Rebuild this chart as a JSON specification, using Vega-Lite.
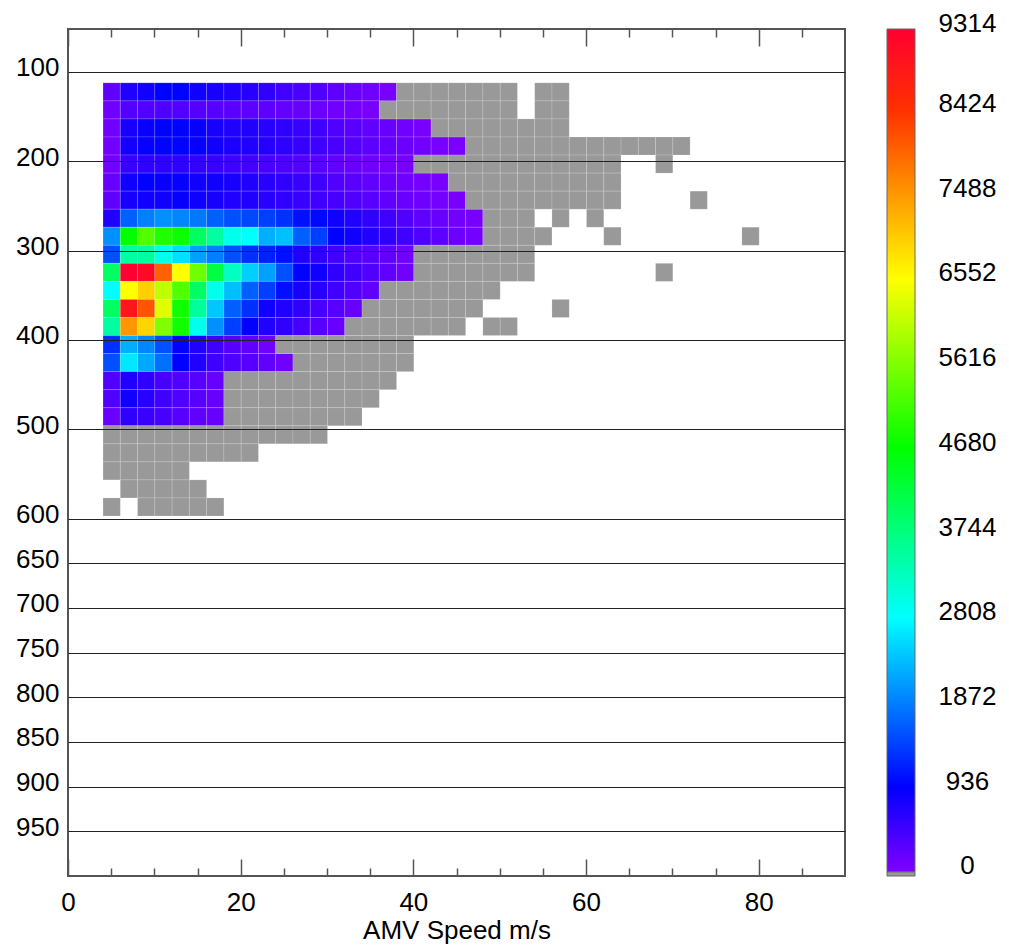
{
"$schema":"https://vega.github.io/schema/vega-lite/v6.json",
"padding":{"left":14,"top":10,"right":5,"bottom":2},
"background":"white",
"config":{"view":{"stroke":null},"font":"Liberation Sans","axis":{"labelFont":"Liberation Sans","titleFont":"Liberation Sans"}},
"datasets":{
"bar":[{"lo":0,"hi":9314},{"lo":-45,"hi":0}],
"cells":[
{"s":4,"p":111.7,"c":228},{"s":6,"p":111.7,"c":700},{"s":8,"p":111.7,"c":820},{"s":10,"p":111.7,"c":950},{"s":12,"p":111.7,"c":950},{"s":14,"p":111.7,"c":820},{"s":16,"p":111.7,"c":760},{"s":18,"p":111.7,"c":700},{"s":20,"p":111.7,"c":640},{"s":22,"p":111.7,"c":580},{"s":24,"p":111.7,"c":470},{"s":26,"p":111.7,"c":400},{"s":28,"p":111.7,"c":350},{"s":30,"p":111.7,"c":250},{"s":32,"p":111.7,"c":180},{"s":34,"p":111.7,"c":120},{"s":36,"p":111.7,"c":60},
{"s":38,"p":111.7,"c":0},{"s":40,"p":111.7,"c":0},{"s":42,"p":111.7,"c":0},{"s":44,"p":111.7,"c":0},{"s":46,"p":111.7,"c":0},{"s":48,"p":111.7,"c":0},{"s":50,"p":111.7,"c":0},{"s":54,"p":111.7,"c":0},{"s":56,"p":111.7,"c":0},
{"s":4,"p":131.9,"c":110},{"s":6,"p":131.9,"c":330},{"s":8,"p":131.9,"c":340},{"s":10,"p":131.9,"c":350},{"s":12,"p":131.9,"c":340},{"s":14,"p":131.9,"c":320},{"s":16,"p":131.9,"c":300},{"s":18,"p":131.9,"c":280},{"s":20,"p":131.9,"c":260},{"s":22,"p":131.9,"c":240},{"s":24,"p":131.9,"c":210},{"s":26,"p":131.9,"c":180},{"s":28,"p":131.9,"c":150},{"s":30,"p":131.9,"c":120},{"s":32,"p":131.9,"c":90},{"s":34,"p":131.9,"c":60},
{"s":36,"p":131.9,"c":0},{"s":38,"p":131.9,"c":0},{"s":40,"p":131.9,"c":0},{"s":42,"p":131.9,"c":0},{"s":44,"p":131.9,"c":0},{"s":46,"p":131.9,"c":0},{"s":48,"p":131.9,"c":0},{"s":50,"p":131.9,"c":0},{"s":54,"p":131.9,"c":0},{"s":56,"p":131.9,"c":0},
{"s":4,"p":152.1,"c":100},{"s":6,"p":152.1,"c":760},{"s":8,"p":152.1,"c":880},{"s":10,"p":152.1,"c":940},{"s":12,"p":152.1,"c":950},{"s":14,"p":152.1,"c":880},{"s":16,"p":152.1,"c":760},{"s":18,"p":152.1,"c":700},{"s":20,"p":152.1,"c":700},{"s":22,"p":152.1,"c":640},{"s":24,"p":152.1,"c":580},{"s":26,"p":152.1,"c":520},{"s":28,"p":152.1,"c":470},{"s":30,"p":152.1,"c":350},{"s":32,"p":152.1,"c":290},{"s":34,"p":152.1,"c":230},{"s":36,"p":152.1,"c":170},{"s":38,"p":152.1,"c":110},{"s":40,"p":152.1,"c":60},
{"s":42,"p":152.1,"c":0},{"s":44,"p":152.1,"c":0},{"s":46,"p":152.1,"c":0},{"s":48,"p":152.1,"c":0},{"s":50,"p":152.1,"c":0},{"s":52,"p":152.1,"c":0},{"s":54,"p":152.1,"c":0},{"s":56,"p":152.1,"c":0},
{"s":4,"p":172.3,"c":100},{"s":6,"p":172.3,"c":780},{"s":8,"p":172.3,"c":900},{"s":10,"p":172.3,"c":960},{"s":12,"p":172.3,"c":960},{"s":14,"p":172.3,"c":900},{"s":16,"p":172.3,"c":800},{"s":18,"p":172.3,"c":740},{"s":20,"p":172.3,"c":700},{"s":22,"p":172.3,"c":660},{"s":24,"p":172.3,"c":600},{"s":26,"p":172.3,"c":540},{"s":28,"p":172.3,"c":480},{"s":30,"p":172.3,"c":400},{"s":32,"p":172.3,"c":320},{"s":34,"p":172.3,"c":260},{"s":36,"p":172.3,"c":200},{"s":38,"p":172.3,"c":140},{"s":40,"p":172.3,"c":100},{"s":42,"p":172.3,"c":60},{"s":44,"p":172.3,"c":40},
{"s":46,"p":172.3,"c":0},{"s":48,"p":172.3,"c":0},{"s":50,"p":172.3,"c":0},{"s":52,"p":172.3,"c":0},{"s":54,"p":172.3,"c":0},{"s":56,"p":172.3,"c":0},{"s":58,"p":172.3,"c":0},{"s":60,"p":172.3,"c":0},{"s":62,"p":172.3,"c":0},{"s":64,"p":172.3,"c":0},{"s":66,"p":172.3,"c":0},{"s":68,"p":172.3,"c":0},{"s":70,"p":172.3,"c":0},
{"s":4,"p":192.5,"c":90},{"s":6,"p":192.5,"c":520},{"s":8,"p":192.5,"c":580},{"s":10,"p":192.5,"c":600},{"s":12,"p":192.5,"c":600},{"s":14,"p":192.5,"c":560},{"s":16,"p":192.5,"c":520},{"s":18,"p":192.5,"c":480},{"s":20,"p":192.5,"c":440},{"s":22,"p":192.5,"c":400},{"s":24,"p":192.5,"c":360},{"s":26,"p":192.5,"c":320},{"s":28,"p":192.5,"c":270},{"s":30,"p":192.5,"c":220},{"s":32,"p":192.5,"c":170},{"s":34,"p":192.5,"c":120},{"s":36,"p":192.5,"c":80},{"s":38,"p":192.5,"c":50},
{"s":40,"p":192.5,"c":0},{"s":42,"p":192.5,"c":0},{"s":44,"p":192.5,"c":0},{"s":46,"p":192.5,"c":0},{"s":48,"p":192.5,"c":0},{"s":50,"p":192.5,"c":0},{"s":52,"p":192.5,"c":0},{"s":54,"p":192.5,"c":0},{"s":56,"p":192.5,"c":0},{"s":58,"p":192.5,"c":0},{"s":60,"p":192.5,"c":0},{"s":62,"p":192.5,"c":0},{"s":68,"p":192.5,"c":0},
{"s":4,"p":212.7,"c":170},{"s":6,"p":212.7,"c":820},{"s":8,"p":212.7,"c":940},{"s":10,"p":212.7,"c":880},{"s":12,"p":212.7,"c":900},{"s":14,"p":212.7,"c":820},{"s":16,"p":212.7,"c":820},{"s":18,"p":212.7,"c":760},{"s":20,"p":212.7,"c":700},{"s":22,"p":212.7,"c":640},{"s":24,"p":212.7,"c":580},{"s":26,"p":212.7,"c":520},{"s":28,"p":212.7,"c":470},{"s":30,"p":212.7,"c":350},{"s":32,"p":212.7,"c":290},{"s":34,"p":212.7,"c":230},{"s":36,"p":212.7,"c":170},{"s":38,"p":212.7,"c":120},{"s":40,"p":212.7,"c":80},{"s":42,"p":212.7,"c":50},
{"s":44,"p":212.7,"c":0},{"s":46,"p":212.7,"c":0},{"s":48,"p":212.7,"c":0},{"s":50,"p":212.7,"c":0},{"s":52,"p":212.7,"c":0},{"s":54,"p":212.7,"c":0},{"s":56,"p":212.7,"c":0},{"s":58,"p":212.7,"c":0},{"s":60,"p":212.7,"c":0},{"s":62,"p":212.7,"c":0},
{"s":4,"p":232.9,"c":230},{"s":6,"p":232.9,"c":760},{"s":8,"p":232.9,"c":820},{"s":10,"p":232.9,"c":820},{"s":12,"p":232.9,"c":880},{"s":14,"p":232.9,"c":820},{"s":16,"p":232.9,"c":760},{"s":18,"p":232.9,"c":700},{"s":20,"p":232.9,"c":700},{"s":22,"p":232.9,"c":640},{"s":24,"p":232.9,"c":580},{"s":26,"p":232.9,"c":520},{"s":28,"p":232.9,"c":470},{"s":30,"p":232.9,"c":410},{"s":32,"p":232.9,"c":350},{"s":34,"p":232.9,"c":290},{"s":36,"p":232.9,"c":230},{"s":38,"p":232.9,"c":170},{"s":40,"p":232.9,"c":120},{"s":42,"p":232.9,"c":80},{"s":44,"p":232.9,"c":50},
{"s":46,"p":232.9,"c":0},{"s":48,"p":232.9,"c":0},{"s":50,"p":232.9,"c":0},{"s":52,"p":232.9,"c":0},{"s":54,"p":232.9,"c":0},{"s":56,"p":232.9,"c":0},{"s":58,"p":232.9,"c":0},{"s":60,"p":232.9,"c":0},{"s":62,"p":232.9,"c":0},{"s":72,"p":232.9,"c":0},
{"s":4,"p":253.1,"c":700},{"s":6,"p":253.1,"c":1640},{"s":8,"p":253.1,"c":1870},{"s":10,"p":253.1,"c":1990},{"s":12,"p":253.1,"c":1930},{"s":14,"p":253.1,"c":1820},{"s":16,"p":253.1,"c":1640},{"s":18,"p":253.1,"c":1520},{"s":20,"p":253.1,"c":1460},{"s":22,"p":253.1,"c":1400},{"s":24,"p":253.1,"c":1290},{"s":26,"p":253.1,"c":1050},{"s":28,"p":253.1,"c":990},{"s":30,"p":253.1,"c":820},{"s":32,"p":253.1,"c":700},{"s":34,"p":253.1,"c":580},{"s":36,"p":253.1,"c":470},{"s":38,"p":253.1,"c":350},{"s":40,"p":253.1,"c":230},{"s":42,"p":253.1,"c":160},{"s":44,"p":253.1,"c":100},{"s":46,"p":253.1,"c":50},
{"s":48,"p":253.1,"c":0},{"s":50,"p":253.1,"c":0},{"s":52,"p":253.1,"c":0},{"s":56,"p":253.1,"c":0},{"s":60,"p":253.1,"c":0},
{"s":4,"p":273.3,"c":1990},{"s":6,"p":273.3,"c":4680},{"s":8,"p":273.3,"c":5270},{"s":10,"p":273.3,"c":4900},{"s":12,"p":273.3,"c":4750},{"s":14,"p":273.3,"c":3975},{"s":16,"p":273.3,"c":3505},{"s":18,"p":273.3,"c":2950},{"s":20,"p":273.3,"c":2808},{"s":22,"p":273.3,"c":2230},{"s":24,"p":273.3,"c":2340},{"s":26,"p":273.3,"c":1640},{"s":28,"p":273.3,"c":1400},{"s":30,"p":273.3,"c":940},{"s":32,"p":273.3,"c":820},{"s":34,"p":273.3,"c":700},{"s":36,"p":273.3,"c":580},{"s":38,"p":273.3,"c":470},{"s":40,"p":273.3,"c":350},{"s":42,"p":273.3,"c":250},{"s":44,"p":273.3,"c":150},{"s":46,"p":273.3,"c":80},
{"s":48,"p":273.3,"c":0},{"s":50,"p":273.3,"c":0},{"s":52,"p":273.3,"c":0},{"s":54,"p":273.3,"c":0},{"s":62,"p":273.3,"c":0},{"s":78,"p":273.3,"c":0},
{"s":4,"p":293.5,"c":1520},{"s":6,"p":293.5,"c":3505},{"s":8,"p":293.5,"c":3505},{"s":10,"p":293.5,"c":2950},{"s":12,"p":293.5,"c":2580},{"s":14,"p":293.5,"c":2110},{"s":16,"p":293.5,"c":1870},{"s":18,"p":293.5,"c":1520},{"s":20,"p":293.5,"c":1290},{"s":22,"p":293.5,"c":1170},{"s":24,"p":293.5,"c":1050},{"s":26,"p":293.5,"c":700},{"s":28,"p":293.5,"c":580},{"s":30,"p":293.5,"c":470},{"s":32,"p":293.5,"c":350},{"s":34,"p":293.5,"c":290},{"s":36,"p":293.5,"c":230},{"s":38,"p":293.5,"c":110},
{"s":40,"p":293.5,"c":0},{"s":42,"p":293.5,"c":0},{"s":44,"p":293.5,"c":0},{"s":46,"p":293.5,"c":0},{"s":48,"p":293.5,"c":0},{"s":50,"p":293.5,"c":0},{"s":52,"p":293.5,"c":0},
{"s":4,"p":313.7,"c":3975},{"s":6,"p":313.7,"c":9314},{"s":8,"p":313.7,"c":9150},{"s":10,"p":313.7,"c":7990},{"s":12,"p":313.7,"c":6552},{"s":14,"p":313.7,"c":5500},{"s":16,"p":313.7,"c":4210},{"s":18,"p":313.7,"c":3270},{"s":20,"p":313.7,"c":2460},{"s":22,"p":313.7,"c":2110},{"s":24,"p":313.7,"c":1520},{"s":26,"p":313.7,"c":940},{"s":28,"p":313.7,"c":820},{"s":30,"p":313.7,"c":580},{"s":32,"p":313.7,"c":470},{"s":34,"p":313.7,"c":350},{"s":36,"p":313.7,"c":230},{"s":38,"p":313.7,"c":110},
{"s":40,"p":313.7,"c":0},{"s":42,"p":313.7,"c":0},{"s":44,"p":313.7,"c":0},{"s":46,"p":313.7,"c":0},{"s":48,"p":313.7,"c":0},{"s":50,"p":313.7,"c":0},{"s":52,"p":313.7,"c":0},{"s":68,"p":313.7,"c":0},
{"s":4,"p":333.9,"c":2808},{"s":6,"p":333.9,"c":6552},{"s":8,"p":333.9,"c":6980},{"s":10,"p":333.9,"c":6090},{"s":12,"p":333.9,"c":5270},{"s":14,"p":333.9,"c":3975},{"s":16,"p":333.9,"c":2950},{"s":18,"p":333.9,"c":2340},{"s":20,"p":333.9,"c":1640},{"s":22,"p":333.9,"c":1400},{"s":24,"p":333.9,"c":1050},{"s":26,"p":333.9,"c":760},{"s":28,"p":333.9,"c":640},{"s":30,"p":333.9,"c":470},{"s":32,"p":333.9,"c":350},{"s":34,"p":333.9,"c":230},
{"s":36,"p":333.9,"c":0},{"s":38,"p":333.9,"c":0},{"s":40,"p":333.9,"c":0},{"s":42,"p":333.9,"c":0},{"s":44,"p":333.9,"c":0},{"s":46,"p":333.9,"c":0},{"s":48,"p":333.9,"c":0},
{"s":4,"p":354.1,"c":3975},{"s":6,"p":354.1,"c":8900},{"s":8,"p":354.1,"c":8100},{"s":10,"p":354.1,"c":6320},{"s":12,"p":354.1,"c":4800},{"s":14,"p":354.1,"c":3540},{"s":16,"p":354.1,"c":2400},{"s":18,"p":354.1,"c":1640},{"s":20,"p":354.1,"c":1290},{"s":22,"p":354.1,"c":820},{"s":24,"p":354.1,"c":700},{"s":26,"p":354.1,"c":580},{"s":28,"p":354.1,"c":410},{"s":30,"p":354.1,"c":290},{"s":32,"p":354.1,"c":170},
{"s":34,"p":354.1,"c":0},{"s":36,"p":354.1,"c":0},{"s":38,"p":354.1,"c":0},{"s":40,"p":354.1,"c":0},{"s":42,"p":354.1,"c":0},{"s":44,"p":354.1,"c":0},{"s":46,"p":354.1,"c":0},{"s":56,"p":354.1,"c":0},
{"s":4,"p":374.3,"c":3505},{"s":6,"p":374.3,"c":7488},{"s":8,"p":374.3,"c":6930},{"s":10,"p":374.3,"c":5620},{"s":12,"p":374.3,"c":4800},{"s":14,"p":374.3,"c":2950},{"s":16,"p":374.3,"c":1990},{"s":18,"p":374.3,"c":1400},{"s":20,"p":374.3,"c":940},{"s":22,"p":374.3,"c":700},{"s":24,"p":374.3,"c":580},{"s":26,"p":374.3,"c":410},{"s":28,"p":374.3,"c":290},{"s":30,"p":374.3,"c":170},
{"s":32,"p":374.3,"c":0},{"s":34,"p":374.3,"c":0},{"s":36,"p":374.3,"c":0},{"s":38,"p":374.3,"c":0},{"s":40,"p":374.3,"c":0},{"s":42,"p":374.3,"c":0},{"s":44,"p":374.3,"c":0},{"s":48,"p":374.3,"c":0},{"s":50,"p":374.3,"c":0},
{"s":4,"p":394.5,"c":1290},{"s":6,"p":394.5,"c":2230},{"s":8,"p":394.5,"c":1930},{"s":10,"p":394.5,"c":1520},{"s":12,"p":394.5,"c":940},{"s":14,"p":394.5,"c":700},{"s":16,"p":394.5,"c":470},{"s":18,"p":394.5,"c":290},{"s":20,"p":394.5,"c":230},{"s":22,"p":394.5,"c":110},
{"s":24,"p":394.5,"c":0},{"s":26,"p":394.5,"c":0},{"s":28,"p":394.5,"c":0},{"s":30,"p":394.5,"c":0},{"s":32,"p":394.5,"c":0},{"s":34,"p":394.5,"c":0},{"s":36,"p":394.5,"c":0},{"s":38,"p":394.5,"c":0},
{"s":4,"p":414.7,"c":1520},{"s":6,"p":414.7,"c":2640},{"s":8,"p":414.7,"c":2170},{"s":10,"p":414.7,"c":1760},{"s":12,"p":414.7,"c":940},{"s":14,"p":414.7,"c":700},{"s":16,"p":414.7,"c":470},{"s":18,"p":414.7,"c":350},{"s":20,"p":414.7,"c":290},{"s":22,"p":414.7,"c":230},{"s":24,"p":414.7,"c":110},
{"s":26,"p":414.7,"c":0},{"s":28,"p":414.7,"c":0},{"s":30,"p":414.7,"c":0},{"s":32,"p":414.7,"c":0},{"s":34,"p":414.7,"c":0},{"s":36,"p":414.7,"c":0},{"s":38,"p":414.7,"c":0},
{"s":4,"p":434.9,"c":350},{"s":6,"p":434.9,"c":700},{"s":8,"p":434.9,"c":580},{"s":10,"p":434.9,"c":410},{"s":12,"p":434.9,"c":350},{"s":14,"p":434.9,"c":290},{"s":16,"p":434.9,"c":170},
{"s":18,"p":434.9,"c":0},{"s":20,"p":434.9,"c":0},{"s":22,"p":434.9,"c":0},{"s":24,"p":434.9,"c":0},{"s":26,"p":434.9,"c":0},{"s":28,"p":434.9,"c":0},{"s":30,"p":434.9,"c":0},{"s":32,"p":434.9,"c":0},{"s":34,"p":434.9,"c":0},{"s":36,"p":434.9,"c":0},
{"s":4,"p":455.1,"c":350},{"s":6,"p":455.1,"c":820},{"s":8,"p":455.1,"c":640},{"s":10,"p":455.1,"c":470},{"s":12,"p":455.1,"c":350},{"s":14,"p":455.1,"c":290},{"s":16,"p":455.1,"c":170},
{"s":18,"p":455.1,"c":0},{"s":20,"p":455.1,"c":0},{"s":22,"p":455.1,"c":0},{"s":24,"p":455.1,"c":0},{"s":26,"p":455.1,"c":0},{"s":28,"p":455.1,"c":0},{"s":30,"p":455.1,"c":0},{"s":32,"p":455.1,"c":0},{"s":34,"p":455.1,"c":0},
{"s":4,"p":475.3,"c":170},{"s":6,"p":475.3,"c":580},{"s":8,"p":475.3,"c":520},{"s":10,"p":475.3,"c":410},{"s":12,"p":475.3,"c":290},{"s":14,"p":475.3,"c":230},{"s":16,"p":475.3,"c":170},
{"s":18,"p":475.3,"c":0},{"s":20,"p":475.3,"c":0},{"s":22,"p":475.3,"c":0},{"s":24,"p":475.3,"c":0},{"s":26,"p":475.3,"c":0},{"s":28,"p":475.3,"c":0},{"s":30,"p":475.3,"c":0},{"s":32,"p":475.3,"c":0},
{"s":4,"p":495.5,"c":0},{"s":6,"p":495.5,"c":0},{"s":8,"p":495.5,"c":0},{"s":10,"p":495.5,"c":0},{"s":12,"p":495.5,"c":0},{"s":14,"p":495.5,"c":0},{"s":16,"p":495.5,"c":0},{"s":18,"p":495.5,"c":0},{"s":20,"p":495.5,"c":0},{"s":22,"p":495.5,"c":0},{"s":24,"p":495.5,"c":0},{"s":26,"p":495.5,"c":0},{"s":28,"p":495.5,"c":0},
{"s":4,"p":515.7,"c":0},{"s":6,"p":515.7,"c":0},{"s":8,"p":515.7,"c":0},{"s":10,"p":515.7,"c":0},{"s":12,"p":515.7,"c":0},{"s":14,"p":515.7,"c":0},{"s":16,"p":515.7,"c":0},{"s":18,"p":515.7,"c":0},{"s":20,"p":515.7,"c":0},
{"s":4,"p":535.9,"c":0},{"s":6,"p":535.9,"c":0},{"s":8,"p":535.9,"c":0},{"s":10,"p":535.9,"c":0},{"s":12,"p":535.9,"c":0},
{"s":6,"p":556.1,"c":0},{"s":8,"p":556.1,"c":0},{"s":10,"p":556.1,"c":0},{"s":12,"p":556.1,"c":0},{"s":14,"p":556.1,"c":0},
{"s":4,"p":576.3,"c":0},{"s":8,"p":576.3,"c":0},{"s":10,"p":576.3,"c":0},{"s":12,"p":576.3,"c":0},{"s":14,"p":576.3,"c":0},{"s":16,"p":576.3,"c":0}
]},
"hconcat":[
{
"width":777,"height":847,
"view":{"stroke":"#555","strokeWidth":2},
"data":{"name":"cells"},
"layer":[
{"transform":[{"filter":"datum.c > 0"}],
"mark":{"type":"rect","stroke":"white","strokeWidth":0.6,"strokeOpacity":0.25},
"encoding":{
"x":{"field":"s","type":"quantitative","bin":{"binned":true,"step":2},
"scale":{"domain":[0,90],"nice":false,"zero":false},
"axis":{"orient":"bottom","values":[0,5,10,15,20,25,30,35,40,45,50,55,60,65,70,75,80,85],
"labelExpr":"datum.value % 20 === 0 ? datum.label : ''",
"tickSize":{"condition":{"test":"datum.value % 20 === 0","value":-17},"value":-8},
"tickColor":"#555","tickWidth":1.5,"domain":false,"grid":false,
"labelFontSize":26,"labelPadding":30,"labelColor":"black","labelFlush":false,"labelOverlap":false,
"title":"AMV Speed m/s","titleFontSize":26,"titleFontWeight":"normal","titleColor":"black","titlePadding":-7}},
"y":{"field":"p","type":"quantitative","bin":{"binned":true,"step":20.2},
"scale":{"domain":[52,1000],"reverse":true,"nice":false,"zero":false},
"axis":{"values":[100,200,300,400,500,600,650,700,750,800,850,900,950],"grid":true,"gridColor":"#222","gridWidth":1,
"domain":false,"ticks":false,"tickSize":0,"labelFontSize":26,"labelPadding":9,"labelOffset":-4,"labelColor":"black","title":null,"zindex":1}},
"color":{"field":"c","type":"quantitative",
"scale":{"domain":[0,936,2808,4680,6552,8424,9314],"range":["#7f00ff","#0000ff","#00ffff","#00ff00","#ffff00","#ff3000","#ff0030"],"interpolate":"rgb"},
"legend":null}
}},
{"transform":[{"filter":"datum.c == 0"}],
"mark":{"type":"rect","color":"#999999","stroke":"white","strokeWidth":0.6,"strokeOpacity":0.25},
"encoding":{
"x":{"field":"s","type":"quantitative","bin":{"binned":true,"step":2},
"axis":{"orient":"top","values":[0,5,10,15,20,25,30,35,40,45,50,55,60,65,70,75,80,85],"labels":false,
"tickSize":{"condition":{"test":"datum.value % 20 === 0","value":-17},"value":-8},
"tickColor":"#555","tickWidth":1.5,"domain":false,"grid":false,"title":null}},
"y":{"field":"p","type":"quantitative","bin":{"binned":true,"step":20.2},
"axis":{"values":[100,200,300,400,500,600,650,700,750,800,850,900,950],"grid":true,"gridColor":"#222","gridWidth":1,
"domain":false,"ticks":false,"tickSize":0,"labelFontSize":26,"labelPadding":9,"labelOffset":-4,"labelColor":"black","title":null,"zindex":1}}
}}
],
"resolve":{"axis":{"x":"independent"}}
},
{
"width":28,"height":847,
"data":{"name":"bar"},
"layer":[
{"transform":[{"filter":"datum.lo >= 0"}],
"mark":{"type":"rect","stroke":"#666","strokeWidth":1,
"color":{"gradient":"linear","x1":0,"y1":1,"x2":0,"y2":0,"stops":[
{"offset":0,"color":"#7f00ff"},{"offset":0.1005,"color":"#0000ff"},{"offset":0.3015,"color":"#00ffff"},{"offset":0.5025,"color":"#00ff00"},{"offset":0.7034,"color":"#ffff00"},{"offset":0.9044,"color":"#ff3000"},{"offset":1,"color":"#ff0030"}]}},
"encoding":{
"y":{"field":"lo","type":"quantitative","scale":{"domain":[-45,9314],"nice":false,"zero":false},
"axis":{"orient":"right","values":[0,936,1872,2808,3744,4680,5616,6552,7488,8424,9314],"format":"d","ticks":false,"tickSize":0,"domain":false,"grid":false,
"labelPadding":52,"labelAlign":"center","labelFontSize":26,"labelOffset":-6,"labelColor":"black","labelFlush":false,"labelOverlap":false,"title":null}},
"y2":{"field":"hi"}
}},
{"transform":[{"filter":"datum.lo < 0"}],
"mark":{"type":"rect","color":"#999999","stroke":"#666","strokeWidth":1},
"encoding":{"y":{"field":"lo","type":"quantitative"},"y2":{"field":"hi"}}}
]
}
],
"spacing":42,
"bounds":"flush"
}
